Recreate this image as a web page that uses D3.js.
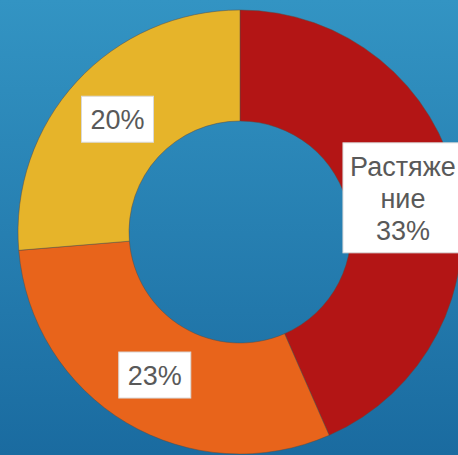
<!DOCTYPE html>
<html>
<head>
<meta charset="utf-8">
<script src="https://cdn.jsdelivr.net/npm/d3@7"></script>
<style>
  html, body { margin: 0; padding: 0; overflow: hidden; }
  #chart { width: 458px; height: 455px; }
</style>
</head>
<body>
<div id="chart"></div>
<script>
/* Donut chart: share of injury types */

const categories = ["Растяжение", "Вывих", "Ушиб"];
const values = [33, 23, 20];
const labels = [["Растяже", "ние", "33%"], ["23%"], ["20%"]];
const colors = ["#b31515", "#e8641b", "#e6b42a"];

const width = 458,
  height = 455,
  cx = 240,
  cy = 232,
  outerR = 222,
  innerR = 111;

let svg = d3.select("#chart")
  .append("svg")
  .attr("width", width)
  .attr("height", height)
  .attr("viewBox", [0, 0, width, height]);

/* blue background gradient */
let grad = svg.append("defs").append("linearGradient")
  .attr("id", "bg")
  .attr("x1", 0).attr("y1", 0)
  .attr("x2", 0).attr("y2", 1);
grad.append("stop").attr("offset", "0%").attr("stop-color", "#3394c3");
grad.append("stop").attr("offset", "100%").attr("stop-color", "#1a6ba0");

svg.append("rect")
  .attr("width", width)
  .attr("height", height)
  .attr("fill", "url(#bg)");

let pie = d3.pie().sort(null).value(d => d.value);
let arc = d3.arc().innerRadius(innerR).outerRadius(outerR);

let data = categories.map((c, i) => ({ name: c, value: values[i], label: labels[i], color: colors[i] }));
let arcs = pie(data);

let g = svg.append("g").attr("transform", `translate(${cx},${cy})`);

g.selectAll("path")
  .data(arcs)
  .join("path")
  .attr("d", arc)
  .attr("fill", d => d.data.color)
  .attr("stroke", "#5a4a40")
  .attr("stroke-opacity", 0.6)
  .attr("stroke-width", 0.8);

/* labels in white boxes at the arc centroid */
const fontSize = 27,
  lineH = 32;

let lab = g.selectAll(".lab")
  .data(arcs)
  .join("g")
  .attr("class", "lab")
  .attr("transform", d => `translate(${arc.centroid(d)})`);

lab.append("rect")
  .attr("x", d => d.data.label.length > 1 ? -60 : -36)
  .attr("width", d => d.data.label.length > 1 ? 120 : 72)
  .attr("y", d => -(d.data.label.length * lineH + 14) / 2)
  .attr("height", d => d.data.label.length * lineH + 14)
  .attr("fill", "#ffffff")
  .attr("stroke", "#d9d9d9")
  .attr("stroke-width", 1);

lab.each(function(d) {
  let n = d.data.label.length;
  d3.select(this).selectAll("text")
    .data(d.data.label)
    .join("text")
    .text(t => t)
    .attr("x", 0)
    .attr("y", (t, i) => (i - (n - 1) / 2) * lineH)
    .attr("dy", "0.36em")
    .attr("text-anchor", "middle")
    .style("font-family", "'Liberation Sans', Arial, sans-serif")
    .style("font-size", fontSize + "px")
    .style("fill", "#595959");
});
</script>
</body>
</html>
